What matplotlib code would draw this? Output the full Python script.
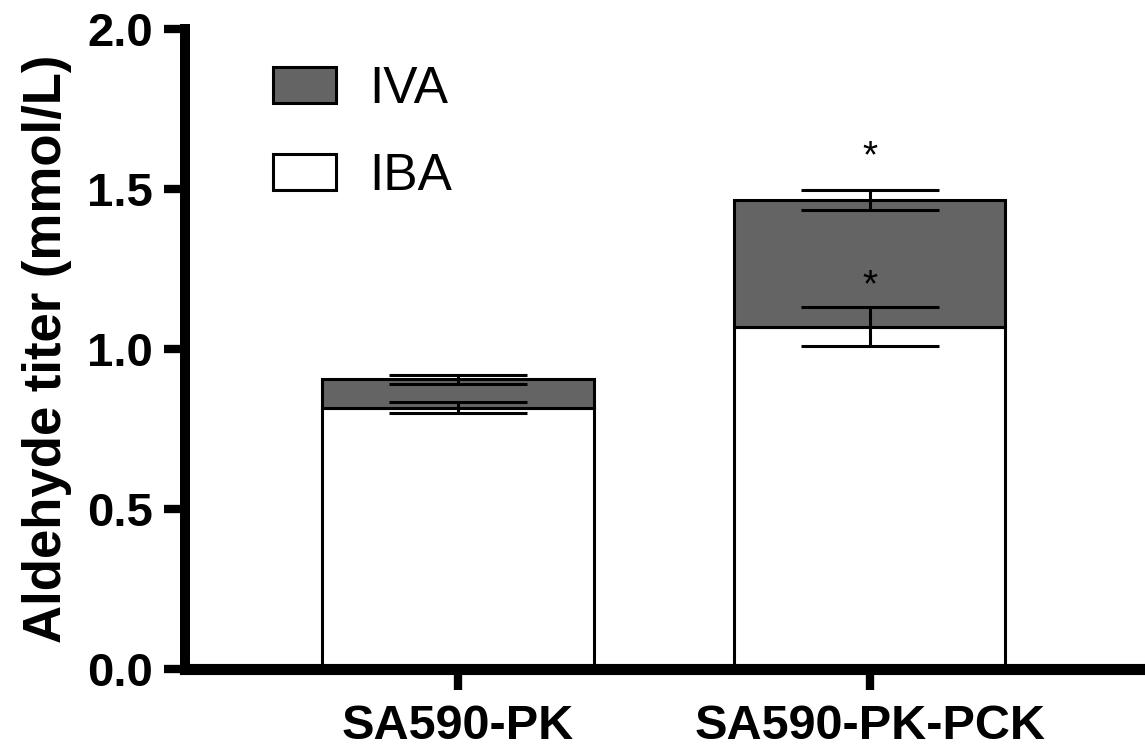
import numpy as np
import matplotlib
matplotlib.use("Agg")
import matplotlib.pyplot as plt

plt.rcParams['font.family'] = ['Liberation Sans', 'DejaVu Sans']

# data
strains = ['SA590-PK', 'SA590-PK-PCK']
iba = [0.817, 1.070]
iba_err = [0.018, 0.061]
iva = [0.088, 0.396]
iva_err = [0.015, 0.031]
stars_y = [1.60, 1.195]   # significance marks over the second strain

gray = '#646464'
x = np.arange(len(strains))
width = 0.66

fig = plt.figure(figsize=(11.45, 7.52), dpi=100)
ax = fig.add_axes([185 / 1145, 1 - 669 / 752, 1 - 185 / 1145, 640 / 752])

b_iba = ax.bar(x, iba, width, color='white', edgecolor='black', linewidth=2.2,
               label='IBA', zorder=2)
b_iva = ax.bar(x, iva, width, bottom=iba, color=gray, edgecolor='black',
               linewidth=2.2, label='IVA', zorder=2)

tot = np.array(iba) + np.array(iva)
ax.errorbar(x, iba, yerr=iba_err, fmt='none', ecolor='black', elinewidth=2.2,
            capsize=50, capthick=2.2, zorder=3)
ax.errorbar(x, tot, yerr=iva_err, fmt='none', ecolor='black', elinewidth=2.2,
            capsize=50, capthick=2.2, zorder=3)

for yy in stars_y:
    ax.text(x[1], yy, '*', ha='center', va='center', fontsize=28, zorder=4)

ax.set_xlim(-0.663, 1.669)
ax.set_ylim(0, 2.0)
ax.set_yticks([0.0, 0.5, 1.0, 1.5, 2.0])
ax.set_yticklabels(['0.0', '0.5', '1.0', '1.5', '2.0'])
ax.set_xticks(x)
ax.set_xticklabels(strains)

for s in ['top', 'right']:
    ax.spines[s].set_visible(False)
ax.spines['left'].set_linewidth(7.2)
ax.spines['bottom'].set_linewidth(8)

ax.tick_params(axis='y', length=15, width=6, pad=8, labelsize=34)
ax.tick_params(axis='x', length=15, width=6, pad=10, labelsize=35)
for lab in ax.get_xticklabels() + ax.get_yticklabels():
    lab.set_fontweight('bold')

ax.set_ylabel('Aldehyde titer (mmol/L)', fontsize=38, fontweight='bold')
ax.yaxis.set_label_coords(-0.118, 0.5)

leg = ax.legend(handles=[b_iva, b_iba], labels=['IVA', 'IBA'], loc='upper left',
                bbox_to_anchor=(0.0914, 0.944), frameon=False, fontsize=37,
                handlelength=1.23, handleheight=0.72, handletextpad=0.65,
                labelspacing=0.74, borderpad=0, borderaxespad=0)
for h in leg.legend_handles:
    h.set_linewidth(2.2)

fig.savefig('out.png', dpi=100)
